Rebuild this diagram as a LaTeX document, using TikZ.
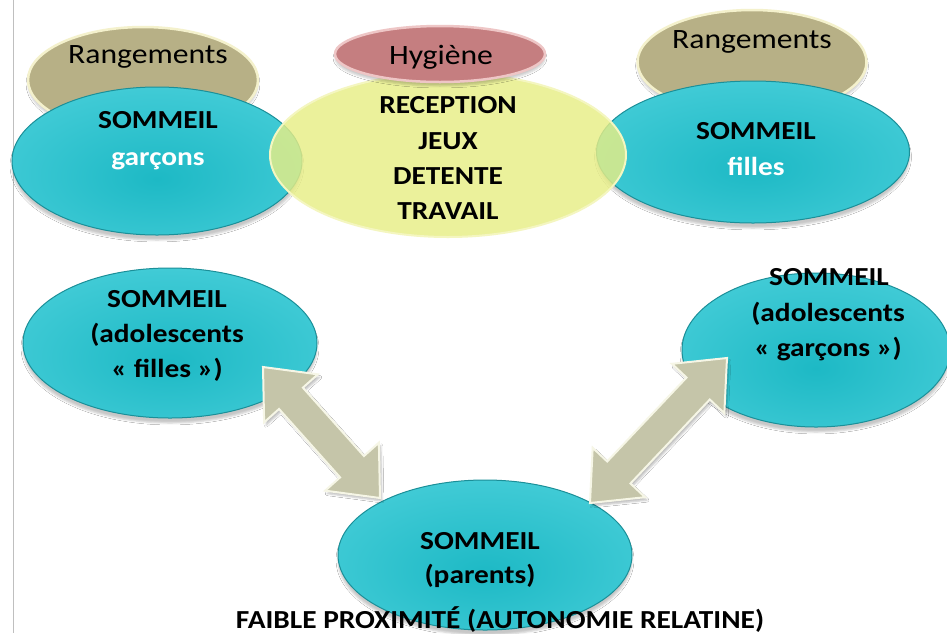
\documentclass[tikz,border=0pt]{standalone}
\usepackage{fontspec}
\setmainfont{Carlito}[FakeStretch=1.13]
\usetikzlibrary{calc,shapes.geometric,shadows.blur}
\definecolor{cyanIn}{HTML}{1DB9C5}
\definecolor{cyanMid}{HTML}{3FCAD5}
\definecolor{cyanOut}{HTML}{78E0E8}
\definecolor{cyanEdge}{HTML}{1B8F98}
\definecolor{khaki}{HTML}{B7B086}
\definecolor{khakiRim}{HTML}{F4F1CC}
\definecolor{rose}{HTML}{C57E80}
\definecolor{roseRim}{HTML}{EEC6C6}
\definecolor{yell}{HTML}{E7EE86}
\definecolor{yellRim}{HTML}{F4F6C0}
\definecolor{arrfill}{HTML}{C5C5A9}
\definecolor{arrRim}{HTML}{F6F6E6}
\pgfdeclareradialshading{cyanball}{\pgfpoint{0bp}{-6bp}}{color(0bp)=(cyanIn); color(28bp)=(cyanMid); color(52bp)=(cyanOut); color(100bp)=(cyanOut)}
\tikzset{
  ell/.style={ellipse, inner sep=0pt, outer sep=0pt},
  cyanell/.style={ell, shading=cyanball, draw=cyanEdge, line width=1pt,
    blur shadow={shadow xshift=0pt, shadow yshift=-5pt, shadow opacity=22}},
  rangell/.style={ell, fill=khaki, draw=khakiRim, line width=2.5pt,
    blur shadow={shadow xshift=0pt, shadow yshift=-4pt, shadow opacity=20}},
  hygell/.style={ell, fill=rose, draw=roseRim, line width=2.5pt,
    blur shadow={shadow xshift=0pt, shadow yshift=-4pt, shadow opacity=20}},
  yellell/.style={ell, fill=yell, fill opacity=0.82, draw=yellRim, line width=2pt},
  btxt/.style={anchor=base, inner sep=0pt, font=\fontsize{26}{35}\selectfont\bfseries},
  wtxt/.style={btxt, text=white},
  rtxt/.style={anchor=base, inner sep=0pt, font=\fontsize{28}{35}\selectfont},
  arrowstyle/.style={fill=arrfill, draw=arrRim, line width=2pt, line join=miter,
    blur shadow={shadow xshift=2pt, shadow yshift=-3pt, shadow opacity=25}}
}
\newcommand\dblarr[2]{%
  \path ($(#1)!42pt!(#2)$) coordinate (#1h) ($(#2)!42pt!(#1)$) coordinate (#2h);
  \draw[arrowstyle] (#1) -- ($(#1h)!36pt!90:(#2)$) -- ($(#1h)!16pt!90:(#2)$)
    -- ($(#2h)!16pt!-90:(#1)$) -- ($(#2h)!36pt!-90:(#1)$) -- (#2)
    -- ($(#2h)!36pt!90:(#1)$) -- ($(#2h)!16pt!90:(#1)$)
    -- ($(#1h)!16pt!-90:(#2)$) -- ($(#1h)!36pt!-90:(#2)$) -- cycle;}
\begin{document}
\begin{tikzpicture}[x=1pt,y=-1pt]
\useasboundingbox[fill=white] (0,0) rectangle (947,633);
\coordinate (lt) at (13,0);
\coordinate (lb) at (13,633);
\draw[black!25, line width=0.8pt] (lt) -- (lb);

% top row
\node[rangell, minimum width=230pt, minimum height=106pt] (rangL) at (143,80) {};
\node[rangell, minimum width=229pt, minimum height=104pt] (rangR) at (752,62) {};
\node[cyanell, minimum width=290pt, minimum height=148pt] (sg) at (157,161) {};
\node[cyanell, minimum width=313pt, minimum height=142pt] (sf) at (753,152) {};
\node[yellell, minimum width=356pt, minimum height=164pt] (yc) at (448,155) {};
\node[hygell, minimum width=210pt, minimum height=56pt] (hyg) at (440,54) {};

\node[rtxt] (tRL) at (148,63) {Rangements};
\node[rtxt] (tRR) at (752,48) {Rangements};
\node[rtxt] (tHy) at (441,64) {Hygiène};
\node[btxt] (tSG1) at (158,128) {SOMMEIL};
\node[wtxt] (tSG2) at (158,165) {garçons};
\node[btxt] (tY1) at (448,113) {RECEPTION};
\node[btxt] (tY2) at (448,149) {JEUX};
\node[btxt] (tY3) at (448,184) {DETENTE};
\node[btxt] (tY4) at (448,219) {TRAVAIL};
\node[btxt] (tSF1) at (756,139) {SOMMEIL};
\node[wtxt] (tSF2) at (756,175) {filles};

% lower part
\node[cyanell, minimum width=294pt, minimum height=150pt] (adf) at (170,343) {};
\node[cyanell, minimum width=268pt, minimum height=154pt] (adg) at (816,350) {};
\node[cyanell, minimum width=294pt, minimum height=150pt] (par) at (485,555) {};

\node[btxt] (tAF1) at (167,307) {SOMMEIL};
\node[btxt] (tAF2) at (167,342) {(adolescents};
\node[btxt] (tAF3) at (167,377) {« filles »)};
\node[btxt] (tAG1) at (829,285) {SOMMEIL};
\node[btxt] (tAG2) at (828,321) {(adolescents};
\node[btxt] (tAG3) at (828,356) {« garçons »)};
\node[btxt] (tP1) at (480,549) {SOMMEIL};
\node[btxt] (tP2) at (480,583) {(parents)};

% arrows
\coordinate (la) at (263,367);
\coordinate (lb2) at (380,498);
\coordinate (ra) at (727,358);
\coordinate (rb) at (590,503);
\dblarr{la}{lb2}
\dblarr{ra}{rb}

\node[btxt] (bottom) at (500,628) {FAIBLE PROXIMITÉ (AUTONOMIE RELATINE)};
\end{tikzpicture}
\end{document}
